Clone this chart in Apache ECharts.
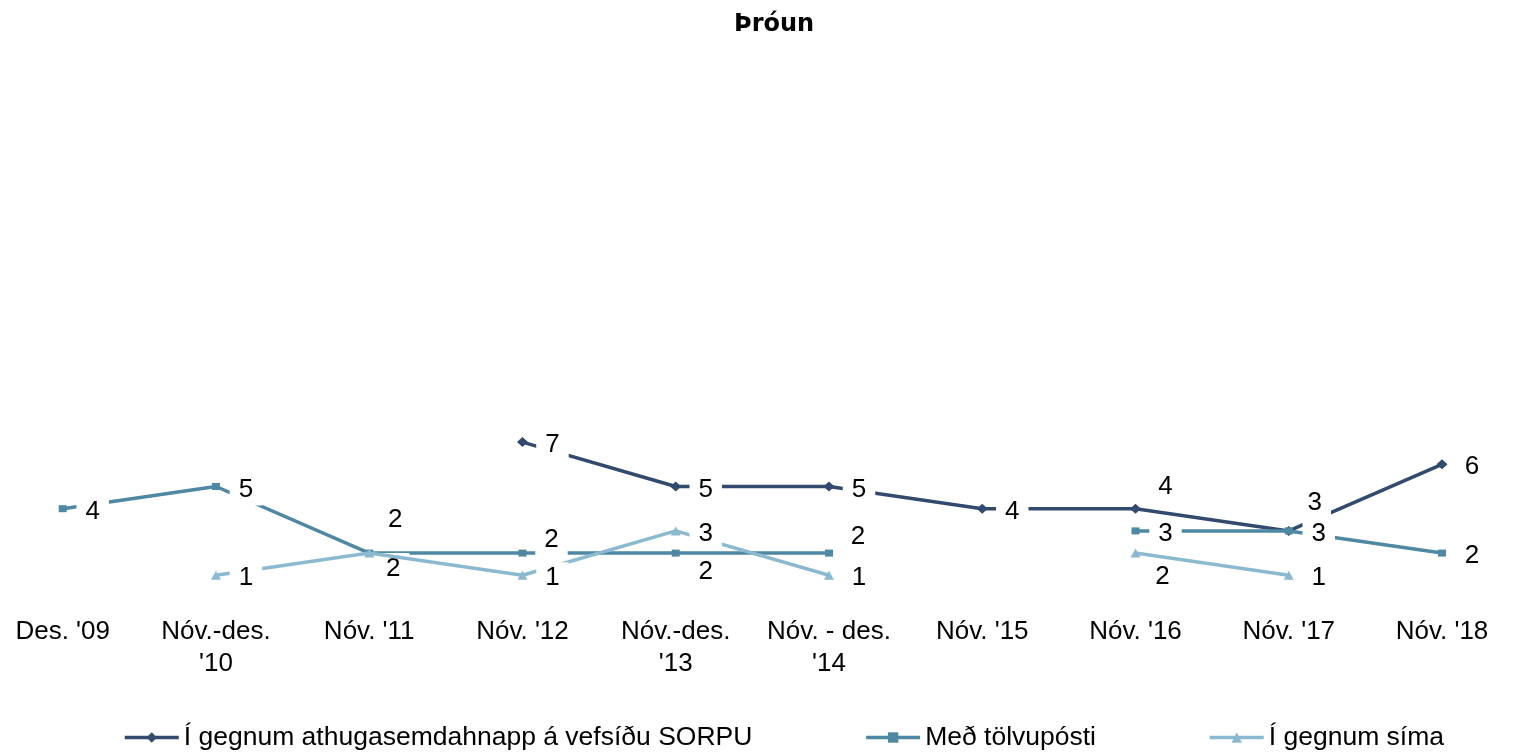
<!DOCTYPE html>
<html>
<head>
<meta charset="utf-8">
<script src="https://cdn.jsdelivr.net/npm/echarts@6/dist/echarts.min.js"></script>
<style>
html,body{margin:0;padding:0;background:#fff;}
#chart{width:1519px;height:755px;}
</style>
</head>
<body>
<div id="chart"></div>
<script>
// ---- data ----
const categories = ["Des. '09", "Nóv.-des.\n'10", "Nóv. '11", "Nóv. '12", "Nóv.-des.\n'13", "Nóv. - des.\n'14", "Nóv. '15", "Nóv. '16", "Nóv. '17", "Nóv. '18"];
const seriesNames = ["Í gegnum athugasemdahnapp á vefsíðu SORPU", "Með tölvupósti", "Í gegnum síma"];
const webForm = [null, null, null, 7, 5, 5, 4, 4, 3, 6];
const email   = [4, 5, 2, 2, 2, 2, null, 3, 3, 2];
const phone   = [null, 1, 2, 1, 3, 1, null, 2, 1, null];

// ---- label placement (style only) ----
const DEFAULT_OFF = [30, 3];
const labelOffsets = [
  {7: [30, -22], 8: [26, -28]},
  {2: [24, 16], 3: [29, -13], 4: [30, 19], 5: [29, -16]},
  {2: [26, -33], 7: [27, 24]}
];
const colors = ['#324a6d', '#4e88a2', '#8bbad0'];
const symbols = ['diamond', 'rect', 'triangle'];
const symbolSizes = [[11, 10], [8, 7], [10, 9]];

const FONT = 'Liberation Sans, Arial, sans-serif';

function buildData(values, offs) {
  return values.map((v, i) => v == null ? '-' : ({
    value: v,
    label: { offset: offs[i] || DEFAULT_OFF }
  }));
}

const allValues = [webForm, email, phone];
const series = allValues.map((vals, k) => ({
  name: seriesNames[k],
  type: 'line',
  data: buildData(vals, labelOffsets[k]),
  connectNulls: false,
  symbol: symbols[k],
  symbolSize: symbolSizes[k],
  showAllSymbol: true,
  lineStyle: { color: colors[k], width: 3.5 },
  itemStyle: { color: colors[k] },
  label: {
    show: true,
    position: 'inside',
    color: '#000',
    fontSize: 26,
    fontFamily: FONT,
    lineHeight: 26,
    backgroundColor: '#fff',
    padding: [3, 9]
  },
  emphasis: { disabled: true },
  z: 2 + k
}));

const chart = echarts.init(document.getElementById('chart'), null, { renderer: 'canvas' });
chart.setOption({
  animation: false,
  backgroundColor: '#fff',
  title: {
    text: 'Þróun',
    left: 729,
    top: 8,
    padding: 5,
    textStyle: { fontFamily: 'DejaVu Sans', fontWeight: 'bold', fontSize: 24, color: '#000' }
  },
  legend: {
    data: seriesNames,
    left: 123,
    top: 724,
    padding: 0,
    orient: 'horizontal',
    itemWidth: 54,
    itemHeight: 13,
    itemGap: 112,
    lineStyle: { width: 3.5 },
    textStyle: { fontFamily: FONT, fontSize: 26.5, color: '#000' },
    selectedMode: false
  },
  grid: { left: 62.7, right: 77, top: 42.5, bottom: 157.5, containLabel: false },
  xAxis: {
    type: 'category',
    data: categories,
    boundaryGap: false,
    axisLine: { show: false },
    axisTick: { show: false },
    splitLine: { show: false },
    axisLabel: {
      interval: 0,
      margin: 18,
      fontFamily: FONT,
      fontSize: 26,
      lineHeight: 32,
      color: '#000'
    }
  },
  yAxis: {
    type: 'value',
    min: 0,
    max: 25,
    interval: 5,
    show: false,
    splitLine: { show: false }
  },
  series: series
});
</script>
</body>
</html>
